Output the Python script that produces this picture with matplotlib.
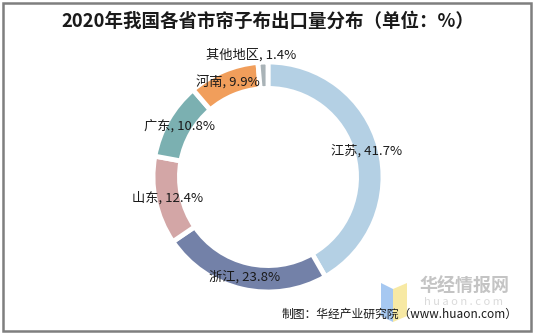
import matplotlib.pyplot as plt
from matplotlib.patches import Rectangle, Polygon
import numpy as np

plt.rcParams['font.family'] = ['Noto Sans CJK SC', 'DejaVu Sans']

# datos del grafico
provincias = ['江苏', '浙江', '山东', '广东', '河南', '其他地区']
valores = [41.7, 23.8, 12.4, 10.8, 9.9, 1.4]
colores = ['#b4d0e4', '#7381a8', '#d3a6a6', '#7bb0b1', '#f19e5b', '#a9b3b7']

fig = plt.figure(figsize=(5.35, 3.35), dpi=100)
ax = fig.add_axes([0, 0, 1, 1])
ax.set_xlim(0, 535)
ax.set_ylim(335, 0)
ax.axis('off')

# marco gris
ax.add_patch(Rectangle((3, 3), 528, 328, fill=False, edgecolor='#7f7f7f', linewidth=1.8))

# titulo
ax.text(268, 21, '2020年我国各省市帘子布出口量分布（单位：%）', ha='center', va='center',
        fontsize=13.3, fontweight='bold', color='#1a1a1a')

# logo de marca de agua
ax.add_patch(Polygon([(381, 283), (393, 289), (393, 322), (381, 316)], closed=True,
                     facecolor='#9cc2f0', edgecolor='none', alpha=0.9))
ax.add_patch(Polygon([(393, 289), (407, 283), (407, 316), (393, 322)], closed=True,
                     facecolor='#f7e79a', edgecolor='none', alpha=0.9))
ax.text(420, 286, '华经情报网', ha='left', va='center', fontsize=13, fontweight='bold', color='#c4c4c4')
ax.text(424, 302, 'h u a o n . c o m', ha='left', va='center', fontsize=8, color='#dadada')

# fuente
ax.text(518, 314, '制图：华经产业研究院（www.huaon.com）', ha='right', va='center',
        fontsize=8.5, color='#1a1a1a')

# grafico de dona
R = 115
ax2 = fig.add_axes([(268 - R) / 535, 1 - (177 + R) / 335, 2 * R / 535, 2 * R / 335])
wedges, _ = ax2.pie(valores, colors=colores, startangle=90, counterclock=False,
                    wedgeprops=dict(width=0.23, edgecolor='white', linewidth=3.5))
ax2.set_xlim(-1, 1)
ax2.set_ylim(-1, 1)
ax2.set_aspect('equal')

# etiquetas
total = sum(valores)
acum = 0
for nombre, v in zip(provincias, valores):
    ang = np.deg2rad(90 - (acum + v / 2) / total * 360)
    acum += v
    r = 0.89 if nombre != '其他地区' else 1.06
    x = r * np.cos(ang)
    y = r * np.sin(ang)
    if nombre == '其他地区':
        x -= 0.1
    ax2.text(x, y, f'{nombre}, {v}%', ha='center', va='center', fontsize=9.5, color='#1a1a1a',
             clip_on=False)

plt.savefig('out.png', dpi=100)
